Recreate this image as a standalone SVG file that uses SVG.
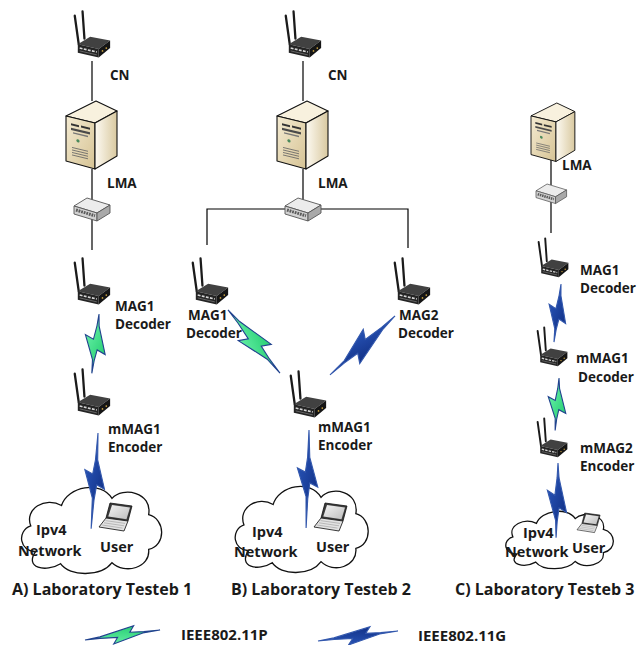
<svg xmlns="http://www.w3.org/2000/svg" width="637" height="645" viewBox="0 0 637 645">
  <style>
    .lbl { font-family: "Open Sans", "Noto Sans", "DejaVu Sans", sans-serif; font-weight: 700; font-size: 13.5px; fill: #1a1a1a; }
    .net { font-size: 14.5px; }
    .cap { font-size: 16px; }
    .key { font-size: 15px; }
    .wire { stroke: #000; stroke-width: 1.2; fill: none; }
    .cloud { fill: #fff; stroke: #111; stroke-width: 1.3; }
    .p11p { fill: url(#gGreen); stroke: #22428f; stroke-width: 1.1; }
    .p11g { fill: url(#gBlue); stroke: #3358ad; stroke-width: 1.1; }
    .edge { stroke: #111; stroke-width: 1.1; stroke-linejoin: round; }
  </style>
  <defs>
    <linearGradient id="gGreen" x1="0" y1="0" x2="1" y2="1">
      <stop offset="0" stop-color="#74f7b2"/>
      <stop offset="1" stop-color="#18c666"/>
    </linearGradient>
    <linearGradient id="gBlue" x1="0" y1="0" x2="1" y2="1">
      <stop offset="0" stop-color="#2d5cc2"/>
      <stop offset="1" stop-color="#0c287a"/>
    </linearGradient>
    <linearGradient id="srvFront" x1="0" y1="0" x2="1" y2="1">
      <stop offset="0" stop-color="#f4ebd2"/>
      <stop offset="1" stop-color="#d6c394"/>
    </linearGradient>
    <linearGradient id="srvSide" x1="0" y1="0" x2="1" y2="0">
      <stop offset="0" stop-color="#fdfaf2"/>
      <stop offset="1" stop-color="#d9c9a0"/>
    </linearGradient>
    <linearGradient id="scr" x1="0" y1="0" x2="1" y2="1">
      <stop offset="0" stop-color="#f4f4f4"/>
      <stop offset="1" stop-color="#bdbdbd"/>
    </linearGradient>

    <!-- short lightning along +y (length 65): two tapered strokes joined by a backward jog -->
    <path id="bolt-s" vector-effect="non-scaling-stroke" stroke-linejoin="miter"
          d="M0,0 L1.6,13 L11,43 L2.5,39 L0.8,51 L0,65 L-1,50 L-11,24 L-2.5,28 L-0.6,13 Z"/>
    <!-- long lightning along +y (length 100): same body, longer tails -->
    <path id="bolt-l" vector-effect="non-scaling-stroke" stroke-linejoin="miter"
          d="M0,0 L1.6,28 L10.5,58 L2.4,54 L0.8,70 L0,100 L-1,68 L-10.5,39 L-2.4,43 L-0.6,28 Z"/>

    <!-- cloud outline in a 150x92 box -->
    <path id="cloud-shape" vector-effect="non-scaling-stroke"
          d="M22,72 C6,73 2,52 17,47 C10,30 32,18 48,27 C54,8 88,2 99,20 C110,8 140,14 136,36 C153,40 154,66 136,70 C138,88 112,95 99,83 C88,97 56,97 47,84 C32,93 10,88 22,72 Z"/>

    <!-- wireless router with two antennas, 38x50 -->
    <g id="router-icon">
      <line x1="0.8" y1="5" x2="5" y2="35" stroke="#1b1b1b" stroke-width="2.4" stroke-linecap="round"/>
      <line x1="9" y1="0.5" x2="11" y2="29" stroke="#1b1b1b" stroke-width="2.4" stroke-linecap="round"/>
      <polygon points="4,35 17,27 38,31 26,40" fill="#414141"/>
      <polygon points="4,35 26,40 26,49 4,44" fill="#242424"/>
      <polygon points="26,40 38,31 38,39 26,49" fill="#151515"/>
      <line x1="6" y1="39" x2="24" y2="43.2" stroke="#d8d8d8" stroke-width="1.7" stroke-dasharray="3 1.4"/>
      <line x1="6" y1="42" x2="24" y2="46.2" stroke="#7a7a7a" stroke-width="0.8"/>
      <circle cx="30" cy="42" r="0.9" fill="#c9a040"/>
      <circle cx="34" cy="39" r="0.9" fill="#c9a040"/>
    </g>

    <!-- tower server, 52x68 -->
    <g id="server-icon">
      <polygon points="0,15 30,0 51,10 29,22" fill="#f8f1de" class="edge"/>
      <polygon points="0,15 29,22 29,68 0,60" fill="url(#srvFront)" class="edge"/>
      <polygon points="29,22 51,10 51,55 29,68" fill="url(#srvSide)" class="edge"/>
      <g transform="matrix(1,0.241,0,1,0,15)">
        <rect x="5" y="6" width="8" height="2" fill="#333"/>
        <rect x="15" y="6" width="9" height="2" fill="#333"/>
        <rect x="5" y="10.5" width="19" height="2.2" fill="#4a4a4a"/>
        <rect x="7" y="14.5" width="15" height="1.4" fill="#777"/>
        <circle cx="12" cy="22" r="1.6" fill="#4b8a5c"/>
        <g stroke="#666" stroke-width="0.8">
          <line x1="6" y1="30" x2="22" y2="30"/>
          <line x1="6" y1="32.5" x2="22" y2="32.5"/>
          <line x1="6" y1="35" x2="22" y2="35"/>
          <line x1="6" y1="37.5" x2="22" y2="37.5"/>
        </g>
      </g>
    </g>

    <!-- network switch, 36x24 -->
    <g id="switch-icon">
      <polygon points="0,8 13,0 36,7 23,15" fill="#ececec" stroke="#555" stroke-width="0.9" stroke-linejoin="round"/>
      <polygon points="0,8 23,15 23,23 0,16" fill="#d2d2d2" stroke="#555" stroke-width="0.9" stroke-linejoin="round"/>
      <polygon points="23,15 36,7 36,15 23,23" fill="#a9a9a9" stroke="#555" stroke-width="0.9" stroke-linejoin="round"/>
      <line x1="2" y1="12" x2="21" y2="17.8" stroke="#5a5a5a" stroke-width="3" stroke-dasharray="1.8 0.9"/>
    </g>

    <!-- laptop, 34x28 -->
    <g id="laptop-icon">
      <polygon points="11,0 33,3 29,18 7,15" fill="#3a3a3a" stroke="#111" stroke-width="0.8" stroke-linejoin="round"/>
      <polygon points="13,2 31,4.6 27.5,16.2 9.3,13.6" fill="url(#scr)"/>
      <polygon points="7,15 29,18 25,28 0,24" fill="#e2e2e2" stroke="#222" stroke-width="0.9" stroke-linejoin="round"/>
      <g stroke="#9a9a9a" stroke-width="0.6">
        <line x1="6.5" y1="17.6" x2="26" y2="20.4"/>
        <line x1="5" y1="19.8" x2="25" y2="22.8"/>
        <line x1="3.2" y1="22" x2="23.5" y2="25.1"/>
      </g>
    </g>
  </defs>

  <!-- ===== Testbed A network ===== -->
  <g id="net-a">
    <use href="#cloud-shape" class="cloud" transform="translate(14,478) scale(0.99,1.02)"/>
    <use href="#laptop-icon" x="99" y="503"/>
    <text class="lbl net" x="36" y="535">Ipv4</text>
    <text class="lbl net" x="18" y="556">Network</text>
    <text class="lbl net" x="100" y="552">User</text>
  </g>
  <!-- ===== Testbed B network ===== -->
  <g id="net-b">
    <use href="#cloud-shape" class="cloud" transform="translate(228,477) scale(0.94,1.02)"/>
    <use href="#laptop-icon" x="314" y="503"/>
    <text class="lbl net" x="252" y="537">Ipv4</text>
    <text class="lbl net" x="234" y="557">Network</text>
    <text class="lbl net" x="316" y="552">User</text>
  </g>
  <!-- ===== Testbed C network ===== -->
  <g id="net-c">
    <use href="#cloud-shape" class="cloud" transform="translate(500,505) scale(0.76,0.68)"/>
    <use href="#laptop-icon" transform="translate(577,513) scale(0.7)"/>
    <text class="lbl net" x="523" y="538">Ipv4</text>
    <text class="lbl net" x="505" y="557">Network</text>
    <text class="lbl net" x="572" y="553">User</text>
  </g>

  <!-- ===== links ===== -->
  <g id="connectors">
    <!-- wired -->
    <line class="wire" x1="92" y1="61" x2="92" y2="101"/>
    <line class="wire" x1="92" y1="169" x2="92" y2="200"/>
    <line class="wire" x1="92" y1="219" x2="92" y2="250"/>

    <line class="wire" x1="303" y1="61" x2="303" y2="101"/>
    <line class="wire" x1="303" y1="169" x2="303" y2="200"/>
    <polyline class="wire" points="207,245 207,209 408,209 408,248"/>

    <line class="wire" x1="551" y1="160" x2="551" y2="185"/>
    <line class="wire" x1="551" y1="201" x2="551" y2="233"/>

    <!-- wireless -->
    <use href="#bolt-s" class="p11p" transform="translate(99,314) rotate(6.9) scale(1,0.92)"/>
    <use href="#bolt-l" class="p11g" transform="translate(98,433) rotate(4.1) scale(1,0.96)"/>

    <use href="#bolt-s" class="p11p" transform="translate(228,310) rotate(-39.5) scale(1.05,1.257)"/>
    <use href="#bolt-s" class="p11g" transform="translate(395,316) rotate(47.8) scale(1.05,1.35)"/>
    <use href="#bolt-l" class="p11g" transform="translate(309,430) rotate(1.7) scale(1,0.98)"/>

    <use href="#bolt-s" class="p11g" transform="translate(561,284) rotate(6.9) scale(0.85,0.9)"/>
    <use href="#bolt-s" class="p11p" transform="translate(559,378) rotate(4.2) scale(0.85,0.81)"/>
    <use href="#bolt-s" class="p11g" transform="translate(558,463) rotate(1.5) scale(0.9,1.15)"/>
  </g>

  <!-- ===== Testbed A nodes ===== -->
  <g id="cn-a">
    <use href="#router-icon" transform="translate(74,11) scale(0.95)"/>
    <text class="lbl" x="110" y="80">CN</text>
  </g>
  <g id="lma-a">
    <use href="#server-icon" x="66" y="101"/>
    <text class="lbl" x="107" y="188">LMA</text>
  </g>
  <g id="switch-a"><use href="#switch-icon" x="74" y="198"/></g>
  <g id="mag1-a">
    <use href="#router-icon" transform="translate(74,258) scale(0.95)"/>
    <text class="lbl" x="115" y="311">MAG1</text>
    <text class="lbl" x="115" y="329">Decoder</text>
  </g>
  <g id="mmag1-a">
    <use href="#router-icon" transform="translate(74,369) scale(0.95)"/>
    <text class="lbl" x="108" y="434">mMAG1</text>
    <text class="lbl" x="108" y="452">Encoder</text>
  </g>
  <text class="lbl cap" x="12" y="595">A) Laboratory Testeb 1</text>

  <!-- ===== Testbed B nodes ===== -->
  <g id="cn-b">
    <use href="#router-icon" transform="translate(285,11) scale(0.95)"/>
    <text class="lbl" x="328" y="80">CN</text>
  </g>
  <g id="lma-b">
    <use href="#server-icon" x="277" y="101"/>
    <text class="lbl" x="318" y="188">LMA</text>
  </g>
  <g id="switch-b"><use href="#switch-icon" x="285" y="198"/></g>
  <g id="mag1-b">
    <use href="#router-icon" transform="translate(192,258) scale(0.95)"/>
    <text class="lbl" x="188" y="320">MAG1</text>
    <text class="lbl" x="186" y="338">Decoder</text>
  </g>
  <g id="mag2-b">
    <use href="#router-icon" transform="translate(394,258) scale(0.95)"/>
    <text class="lbl" x="399" y="320">MAG2</text>
    <text class="lbl" x="398" y="338">Decoder</text>
  </g>
  <g id="mmag1-b">
    <use href="#router-icon" transform="translate(290,371) scale(0.95)"/>
    <text class="lbl" x="318" y="432">mMAG1</text>
    <text class="lbl" x="318" y="450">Encoder</text>
  </g>
  <text class="lbl cap" x="231" y="595">B) Laboratory Testeb 2</text>

  <!-- ===== Testbed C nodes ===== -->
  <g id="lma-c">
    <use href="#server-icon" transform="translate(531,103) scale(0.86)"/>
    <text class="lbl" x="562" y="170">LMA</text>
  </g>
  <g id="switch-c"><use href="#switch-icon" transform="translate(536,184) scale(0.85)"/></g>
  <g id="mag1-c">
    <use href="#router-icon" transform="translate(538,238) scale(0.8)"/>
    <text class="lbl" x="580" y="275">MAG1</text>
    <text class="lbl" x="580" y="293">Decoder</text>
  </g>
  <g id="mmag1-c">
    <use href="#router-icon" transform="translate(537,327) scale(0.8)"/>
    <text class="lbl" x="576" y="363">mMAG1</text>
    <text class="lbl" x="578" y="382">Decoder</text>
  </g>
  <g id="mmag2-c">
    <use href="#router-icon" transform="translate(537,418) scale(0.8)"/>
    <text class="lbl" x="580" y="453">mMAG2</text>
    <text class="lbl" x="580" y="471">Encoder</text>
  </g>
  <text class="lbl cap" x="455" y="595">C) Laboratory Testeb 3</text>

  <!-- ===== legend ===== -->
  <g id="legend">
    <use href="#bolt-s" class="p11p" transform="translate(85,640) rotate(-97.6) scale(0.7,1.165)"/>
    <text class="lbl key" x="181" y="640">IEEE802.11P</text>
    <use href="#bolt-s" class="p11g" transform="translate(318,641) rotate(-97.1) scale(0.7,1.24)"/>
    <text class="lbl key" x="418" y="641">IEEE802.11G</text>
  </g>
</svg>
